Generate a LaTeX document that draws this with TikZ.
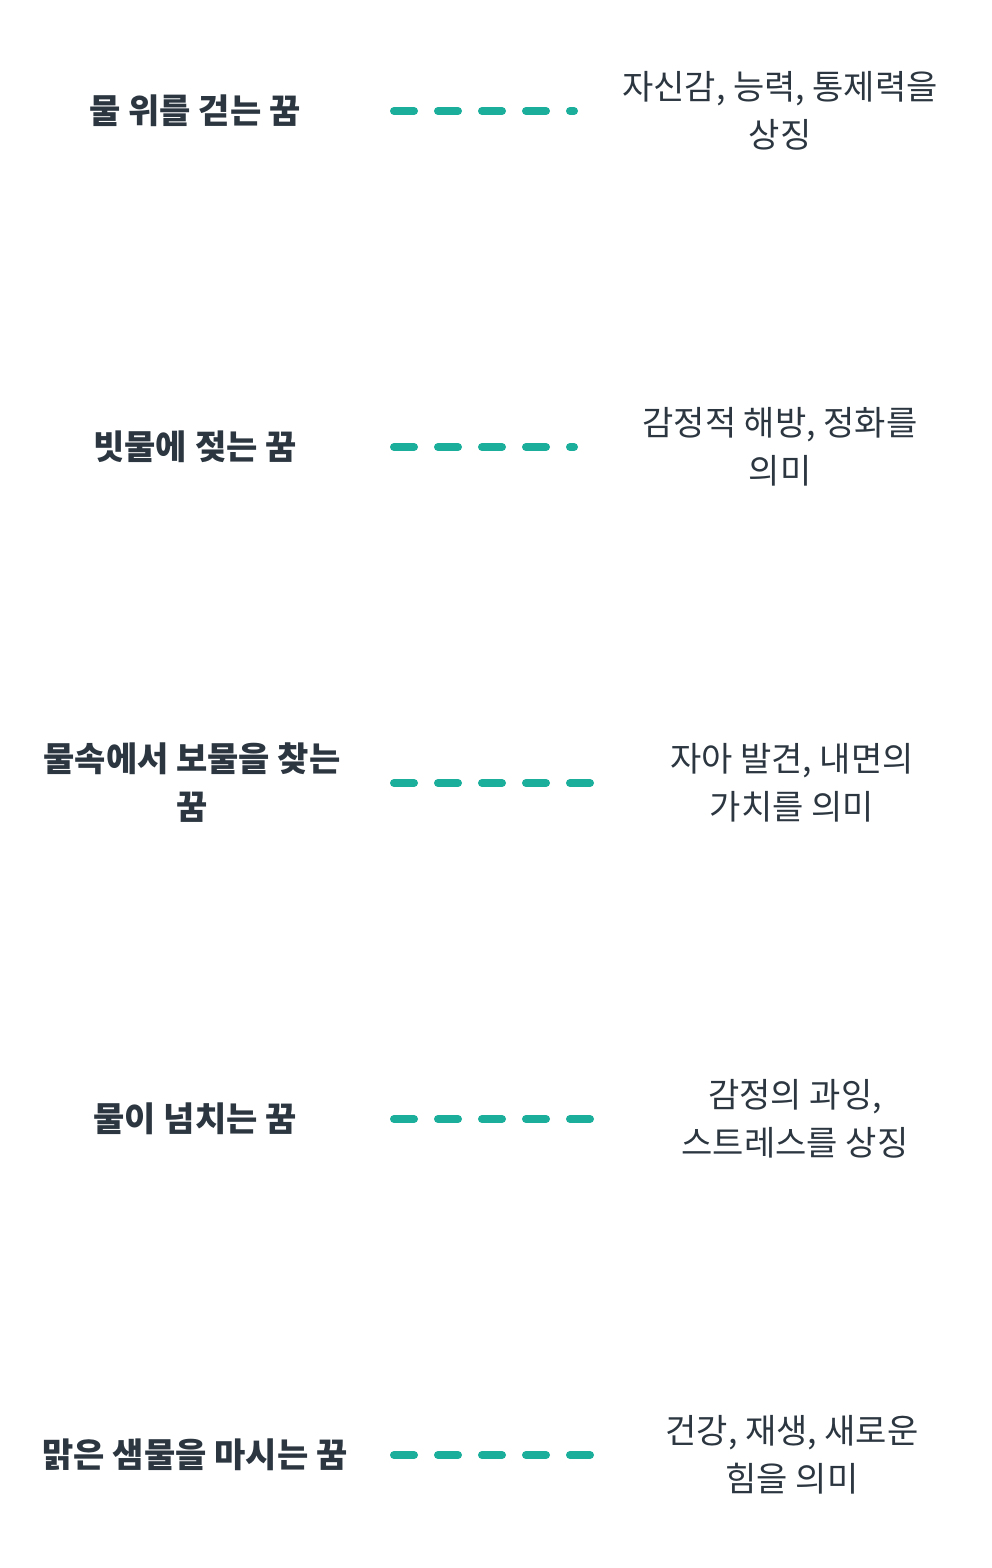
\documentclass[tikz,border=0pt]{standalone}
\usepackage{fontspec}
\setmainfont{Noto Sans CJK KR}
\definecolor{txt}{HTML}{2B3640}
\definecolor{teal}{HTML}{1AAE9B}
\begin{document}
\begin{tikzpicture}[x=0.75pt,y=-0.75pt,
  lab/.style={font=\fontsize{25.5}{36}\selectfont\bfseries,text=txt,align=center},
  mean/.style={font=\fontsize{25.5}{36}\selectfont,text=txt,align=center},
  conn/.style={draw=teal,line width=6pt,line cap=round,dash pattern=on 15pt off 18pt}]
\useasboundingbox (0,0) rectangle (992,1568);
\node[lab] (l1) at (195,111) {물 위를 걷는 꿈};
\node[lab] (l2) at (195,447) {빗물에 젖는 꿈};
\node[lab] (l3) at (192,783) {물속에서 보물을 찾는\\꿈};
\node[lab] (l4) at (195,1119) {물이 넘치는 꿈};
\node[lab] (l5) at (195,1455) {맑은 샘물을 마시는 꿈};
\node[mean] (r1) at (780,111) {자신감, 능력, 통제력을\\상징};
\node[mean] (r2) at (780,447) {감정적 해방, 정화를\\의미};
\node[mean] (r3) at (792,783) {자아 발견, 내면의\\가치를 의미};
\node[mean] (r4) at (795,1119) {감정의 과잉,\\스트레스를 상징};
\node[mean] (r5) at (792,1455) {건강, 재생, 새로운\\힘을 의미};
\foreach \i/\y/\e in {1/111/574,2/447/574,3/783/591,4/1119/591,5/1455/591}{
  \coordinate (a\i) at (394,\y);
  \coordinate (b\i) at (\e,\y);
  \draw[conn] (a\i) -- (b\i);
}
\end{tikzpicture}
\end{document}
